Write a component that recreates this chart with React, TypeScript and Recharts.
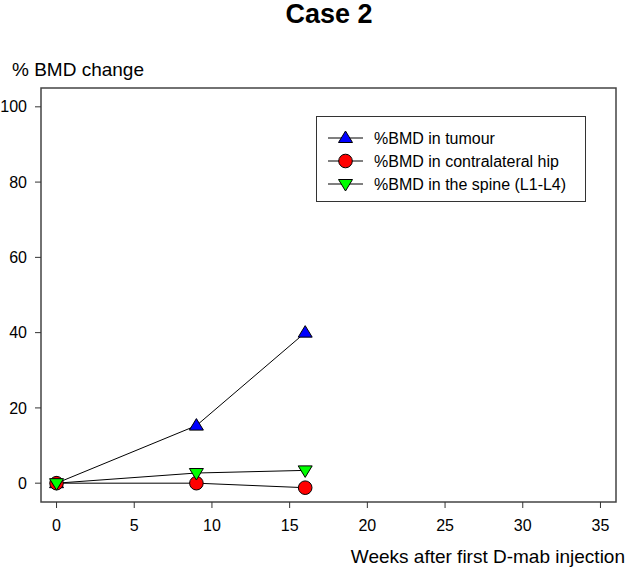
import { LineChart, Line, XAxis, YAxis, Legend, ReferenceArea } from "recharts";

const weeks = [0, 9, 16];
const tumour = [0, 15.3, 40];
const hip = [0, 0, -1.2];
const spine = [0, 2.7, 3.4];
const xTicks = [0, 5, 10, 15, 20, 25, 30, 35];
const yTicks = [0, 20, 40, 60, 80, 100];
const seriesNames = [
  "%BMD in tumour",
  "%BMD in contralateral hip",
  "%BMD in the spine (L1-L4)",
];
const seriesColors = ["#0000ff", "#ff0000", "#00ff00"];
const seriesShapes = ["up", "circle", "down"];

const data = weeks.map((w, i) => ({
  w,
  tumour: tumour[i],
  hip: hip[i],
  spine: spine[i],
}));

const FONT = '"Liberation Sans", Arial, sans-serif';

function Marker({ cx, cy, shape, fill }: { cx: number; cy: number; shape: string; fill: string }) {
  if (shape === "circle") {
    return <circle cx={cx} cy={cy} r={6.8} fill={fill} stroke="#000" strokeWidth={1} />;
  }
  if (shape === "up") {
    return (
      <path
        d={`M${cx},${cy - 7} L${cx + 7},${cy + 4.5} L${cx - 7},${cy + 4.5} Z`}
        fill={fill}
        stroke="#000"
        strokeWidth={1}
      />
    );
  }
  return (
    <path
      d={`M${cx},${cy + 7} L${cx + 7},${cy - 4.5} L${cx - 7},${cy - 4.5} Z`}
      fill={fill}
      stroke="#000"
      strokeWidth={1}
    />
  );
}

const makeDot = (k: number) => (p: any) =>
  p.cx == null ? (
    <g key={`d${k}-${p.index}`} />
  ) : (
    <g key={`d${k}-${p.index}`}>
      <Marker cx={p.cx} cy={p.cy} shape={seriesShapes[k]} fill={seriesColors[k]} />
    </g>
  );

function LegendBox() {
  return (
    <svg width={270} height={86} style={{ display: "block", fontFamily: FONT }}>
      <rect x={0.5} y={0.5} width={269} height={85} fill="#fff" stroke="#333" strokeWidth={1} />
      {seriesNames.map((name, i) => {
        const y = 22 + i * 23;
        return (
          <g key={name}>
            <line x1={12} x2={47} y1={y} y2={y} stroke="#000" strokeWidth={1} />
            <Marker cx={29.5} cy={y} shape={seriesShapes[i]} fill={seriesColors[i]} />
            <text x={58} y={y + 6} fontSize={16} fill="#000">
              {name}
            </text>
          </g>
        );
      })}
    </svg>
  );
}

export default function App() {
  return (
    <div style={{ position: "absolute", left: 0, top: 0, width: 630, height: 574, background: "#fff", fontFamily: FONT }}>
      <LineChart
        width={630}
        height={574}
        data={data}
        margin={{ top: 88, right: 14, bottom: 0, left: 0 }}
      >
        <XAxis
          dataKey="w"
          type="number"
          domain={[-1, 36]}
          ticks={xTicks}
          interval={0}
          allowDataOverflow
          axisLine={false}
          tickSize={6}
          tickMargin={12}
          height={72}
          tickLine={{ stroke: "#333" }}
          tick={{ fontSize: 16, fill: "#000", fontFamily: FONT }}
        />
        <YAxis
          type="number"
          domain={[-5, 105]}
          ticks={yTicks}
          interval={0}
          allowDataOverflow
          axisLine={false}
          tickSize={6}
          tickMargin={8}
          width={41}
          tickLine={{ stroke: "#333" }}
          tick={{ fontSize: 16, fill: "#000", fontFamily: FONT }}
        />
        <ReferenceArea
          x1={-1}
          x2={36}
          y1={-5}
          y2={105}
          fill="none"
          fillOpacity={0}
          stroke="#444"
          strokeWidth={1.5}
        />
        <Legend
          layout="vertical"
          align="center"
          verticalAlign="middle"
          content={() => <LegendBox />}
          wrapperStyle={{ position: "absolute", left: 316, top: 116, width: 270, height: 86 }}
        />
        <Line dataKey="tumour" stroke="#000" strokeWidth={1} dot={makeDot(0)} activeDot={false} isAnimationActive={false} />
        <Line dataKey="hip" stroke="#000" strokeWidth={1} dot={makeDot(1)} activeDot={false} isAnimationActive={false} />
        <Line dataKey="spine" stroke="#000" strokeWidth={1} dot={makeDot(2)} activeDot={false} isAnimationActive={false} />
      </LineChart>
      <svg
        width={630}
        height={574}
        style={{ position: "absolute", left: 0, top: 0, pointerEvents: "none", fontFamily: FONT }}
      >
        <text x={329} y={23} textAnchor="middle" fontSize={27} fontWeight="bold" fill="#000">
          Case 2
        </text>
        <text x={12} y={76} fontSize={19} fill="#000">
          % BMD change
        </text>
        <text x={625} y={563} textAnchor="end" fontSize={19} fill="#000">
          Weeks after first D-mab injection
        </text>
      </svg>
    </div>
  );
}
